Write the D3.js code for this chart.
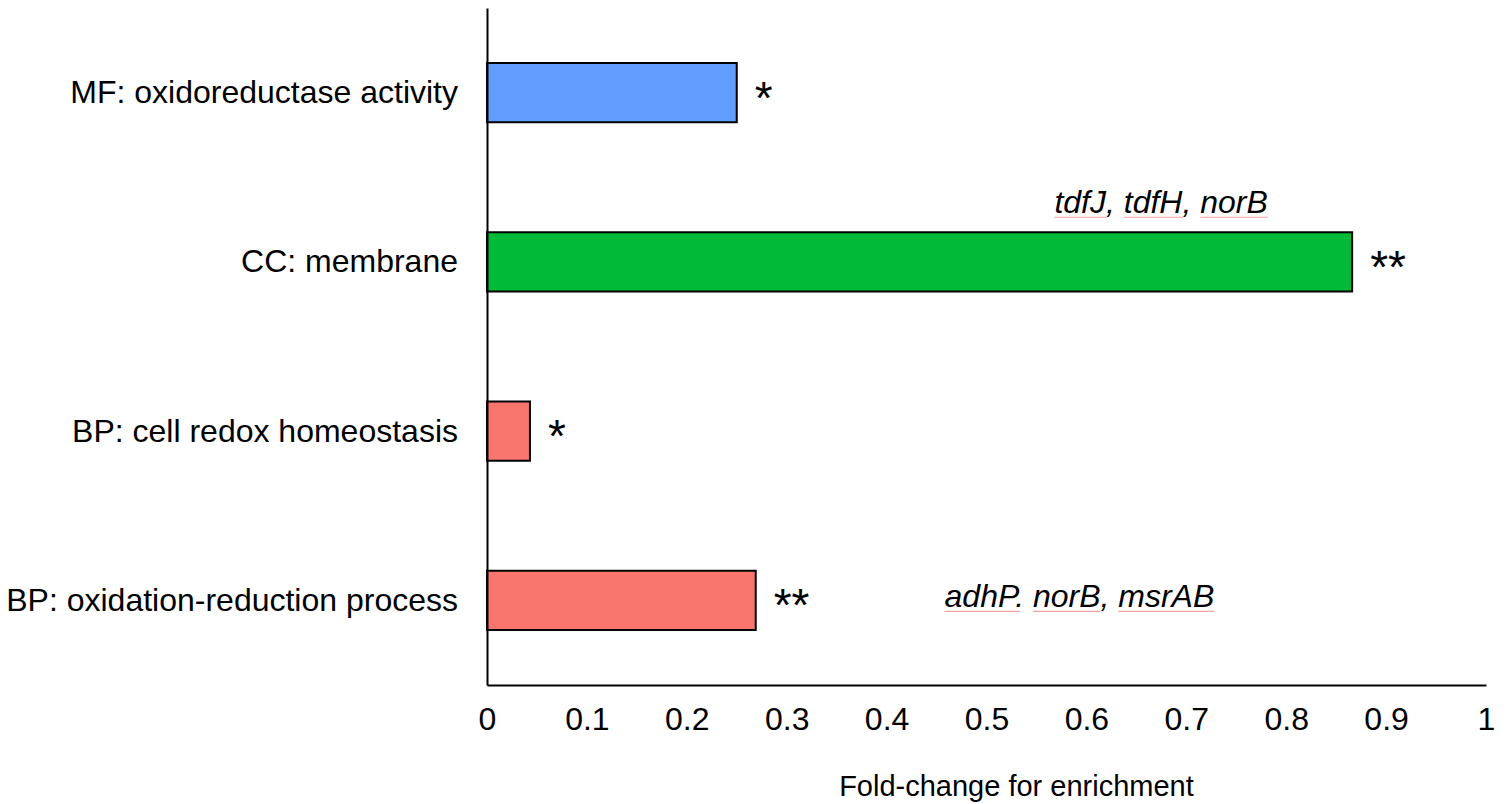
<!DOCTYPE html>
<html>
<head>
<meta charset="utf-8">
<script src="https://cdn.jsdelivr.net/npm/d3@7"></script>
<style>
  body { margin: 0; background: #ffffff; }
  text { font-family: Arial, "Liberation Sans", sans-serif; fill: #000; }
</style>
</head>
<body>
<div id="chart"></div>
<script>
// categories top to bottom
var categories = ["MF: oxidoreductase activity", "CC: membrane", "BP: cell redox homeostasis", "BP: oxidation-reduction process"];
var values = [0.25, 0.866, 0.043, 0.269];
var colours = ["#619CFF", "#00BA38", "#F8766D", "#F8766D"];
var stars = ["*", "**", "*", "**"];
var xTicks = [0, 0.1, 0.2, 0.3, 0.4, 0.5, 0.6, 0.7, 0.8, 0.9, 1];
// gene notes: [category index, words, separators]
var notes = [
  { cat: 1, words: ["tdfJ", "tdfH", "norB"], seps: [", ", ", ", ""] },
  { cat: 3, words: ["adhP", "norB", "msrAB"], seps: [". ", ", ", ""] }
];

var totalWidth = 1509;
var totalHeight = 804;
var margin = { left: 487, top: 8, right: 23, bottom: 119 };
var width = totalWidth - margin.left - margin.right;
var height = totalHeight - margin.top - margin.bottom;

var x = d3.scaleLinear().domain([0, 1]).range([0, width]);
var y = d3.scaleBand().domain(categories).range([0, height])
    .paddingInner(0.65).paddingOuter(0.325);

var svg = d3.select("#chart")
    .append("svg")
        .attr("width", totalWidth)
        .attr("height", totalHeight)
    .append("g")
        .attr("transform", "translate(" + margin.left + "," + margin.top + ")");

// bars
svg.selectAll("rect.bar").data(categories).enter().append("rect")
    .attr("class", "bar")
    .attr("x", 0)
    .attr("y", function(d) { return y(d); })
    .attr("width", function(d, i) { return x(values[i]); })
    .attr("height", y.bandwidth())
    .attr("fill", function(d, i) { return colours[i]; })
    .attr("stroke", "#000")
    .attr("stroke-width", 2);

// significance stars
svg.selectAll("text.star").data(categories).enter().append("text")
    .attr("class", "star")
    .attr("x", function(d, i) { return x(values[i]) + 18; })
    .attr("y", function(d) { return y(d) + y.bandwidth() / 2 + 21; })
    .attr("font-size", 46)
    .text(function(d, i) { return stars[i]; });

// axes
var xAxis = d3.axisBottom(x).tickValues(xTicks).tickFormat(d3.format("")).tickSize(0).tickPadding(22);
var yAxis = d3.axisLeft(y).tickSize(0).tickPadding(29);

var gx = svg.append("g")
    .attr("class", "x axis")
    .attr("transform", "translate(0," + height + ")")
    .call(xAxis);
var gy = svg.append("g")
    .attr("class", "y axis")
    .call(yAxis);

[gx, gy].forEach(function(g) {
    g.select(".domain").attr("stroke", "#000").attr("stroke-width", 2);
    g.selectAll("text").attr("font-size", 32).attr("font-family", "Arial, 'Liberation Sans', sans-serif").attr("fill", "#000");
});
gy.selectAll("text").attr("dy", "0.33em");

// axis title
svg.append("text")
    .attr("x", x(0.53))
    .attr("y", height + 111)
    .attr("text-anchor", "middle")
    .attr("font-size", 29)
    .text("Fold-change for enrichment");

// gene notes, italic, with the pink squiggle lines of the original
var notePos = [
    { x: x(0.568), y: function(c) { return y(c) - 19; } },
    { x: x(0.458), y: function(c) { return y(c) + y.bandwidth() / 2 + 7; } }
];
notes.forEach(function(n, k) {
    var c = categories[n.cat];
    var by = notePos[k].y(c);
    var t = svg.append("text")
        .attr("x", notePos[k].x)
        .attr("y", by)
        .attr("font-size", 32)
        .attr("font-style", "italic");
    var spans = [];
    n.words.forEach(function(w, i) {
        spans.push(t.append("tspan").text(w));
        if (n.seps[i]) t.append("tspan").text(n.seps[i]);
    });
    spans.forEach(function(s) {
        var bb = s.node().getBBox();
        svg.append("line")
            .attr("x1", bb.x)
            .attr("x2", bb.x + bb.width)
            .attr("y1", by + 4)
            .attr("y2", by + 4)
            .attr("stroke", "#f4a3a3")
            .attr("stroke-width", 1.2);
    });
});
</script>
</body>
</html>
